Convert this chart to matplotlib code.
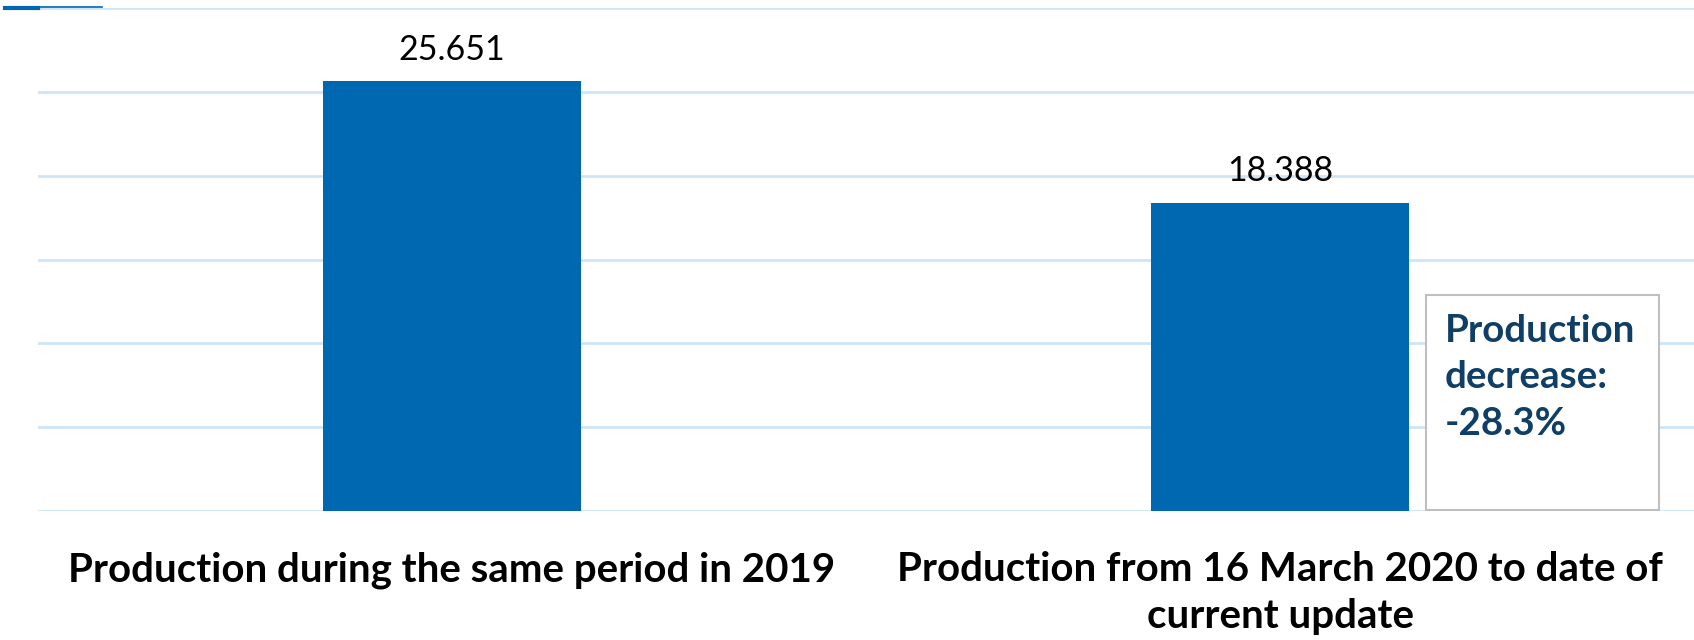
import matplotlib
matplotlib.use("Agg")
import matplotlib.pyplot as plt
from matplotlib.patches import Rectangle
from matplotlib.lines import Line2D

categories = ["Production during the same period in 2019",
              "Production from 16 March 2020 to date of\ncurrent update"]
values = [25.651, 18.388]
value_labels = ["25.651", "18.388"]
note_text = "Production\ndecrease:\n-28.3%"

BAR = "#0067b1"
GRID = "#cfe5f5"
NAVY = "#0f3f66"
FONT = "Lato"

fig = plt.figure(figsize=(16.94, 6.40), dpi=100)
ax = fig.add_axes([38/1694, 1-511/640, 1656/1694, 503/640])

x = list(range(len(categories)))
ax.bar(x, values, width=0.312, color=BAR, zorder=3)
ax.set_xlim(-0.5, 1.5)
ax.set_ylim(0, 30)
ax.set_yticks(range(0, 31, 5))
ax.yaxis.grid(True, color=GRID, linewidth=2)
ax.set_axisbelow(True)
ax.tick_params(axis="y", left=False, labelleft=False)
ax.tick_params(axis="x", length=0, pad=29)
ax.set_xticks(x)
ax.set_xticklabels(categories, fontfamily=FONT, fontweight="bold", fontsize=29,
                   color="black", linespacing=1.32)
for s in ax.spines.values():
    s.set_visible(False)

for xi, v, lab in zip(x, values, value_labels):
    ax.annotate(lab, (xi, v), xytext=(0, 11), textcoords="offset points",
                ha="center", va="bottom", fontfamily=FONT, fontsize=24.5, color="black")

ax.add_patch(Rectangle((0.838, 0.002), 0.141, 0.427, transform=ax.transAxes,
                       facecolor="white", edgecolor="#bfbfbf", linewidth=1.5, zorder=4))
ax.text(0.8496, 0.392, note_text, transform=ax.transAxes, ha="left", va="top",
        fontfamily=FONT, fontweight="bold", fontsize=27.7, color=NAVY,
        linespacing=1.45, zorder=5)

fig.add_artist(Line2D([5/1694, 38/1694], [1-8/640, 1-8/640], transform=fig.transFigure,
                      color=BAR, linewidth=3))
fig.add_artist(Line2D([38/1694, 102/1694], [1-6.5/640, 1-6.5/640], transform=fig.transFigure,
                      color=BAR, linewidth=1.2))

fig.savefig("out.png", dpi=100)
